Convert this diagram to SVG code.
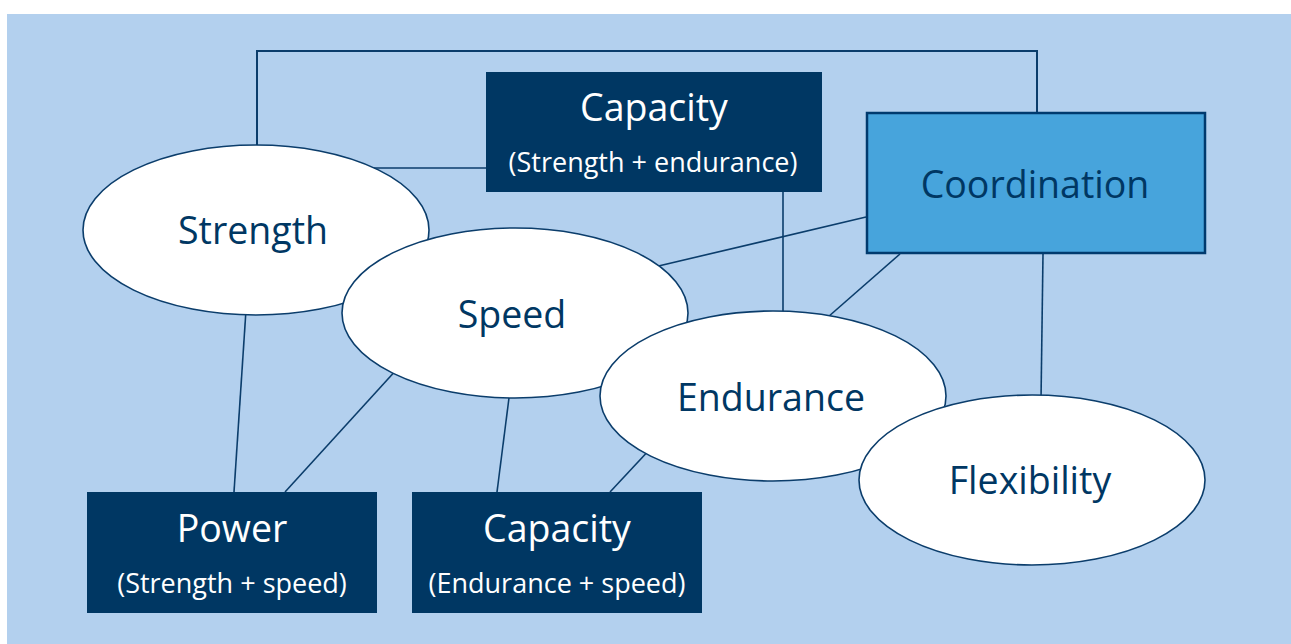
<svg xmlns="http://www.w3.org/2000/svg" width="1291" height="644" viewBox="0 0 1291 644">
<style>
.bg{fill:#b3d0ee}
.ell{fill:#ffffff;stroke:#0b3d6b;stroke-width:1.6}
.dark{fill:#003763}
.coord{fill:#47a4dc;stroke:#003a6e;stroke-width:2.5}
.ln{fill:none;stroke:#0b3d6b;stroke-width:1.6}
.t{font-family:"Open Sans","Noto Sans",sans-serif;text-anchor:middle}
.lbl{fill:#003763;font-size:37.5px}
.wt{fill:#ffffff;font-size:37.5px}
.sub{fill:#ffffff;font-size:27px}
</style>
<rect class="bg" x="7" y="14" width="1284" height="630"/>
<g id="connectors">
<polyline class="ln" points="257,150 257,51 1037,51 1037,113" style="stroke-width:2"/>
<line class="ln" x1="370" y1="168" x2="486" y2="168"/>
<line class="ln" x1="783" y1="192" x2="783" y2="320"/>
<line class="ln" x1="866" y1="217" x2="650" y2="268"/>
<line class="ln" x1="900" y1="254" x2="820" y2="324"/>
<line class="ln" x1="1043" y1="254" x2="1041" y2="400"/>
<line class="ln" x1="246" y1="310" x2="234" y2="492"/>
<line class="ln" x1="398" y1="368" x2="285" y2="492"/>
<line class="ln" x1="510" y1="390" x2="497" y2="492"/>
<line class="ln" x1="652" y1="447" x2="610" y2="492"/>
</g>
<g id="strength"><ellipse class="ell" cx="256" cy="230" rx="173" ry="85"/><text class="t lbl" x="253" y="244">Strength</text></g>
<g id="speed"><ellipse class="ell" cx="515" cy="313" rx="173" ry="85"/><text class="t lbl" x="512" y="328">Speed</text></g>
<g id="endurance"><ellipse class="ell" cx="773" cy="396" rx="173" ry="85"/><text class="t lbl" x="771" y="411">Endurance</text></g>
<g id="flexibility"><ellipse class="ell" cx="1032" cy="480" rx="173" ry="85"/><text class="t lbl" x="1030" y="494">Flexibility</text></g>
<g id="capacity-top"><rect class="dark" x="486" y="72" width="336" height="120"/><text class="t wt" x="654" y="121">Capacity</text><text class="t sub" x="653" y="172">(Strength + endurance)</text></g>
<g id="coordination"><rect class="coord" x="867" y="113" width="338" height="140"/><text class="t lbl" x="1035" y="198">Coordination</text></g>
<g id="power"><rect class="dark" x="87" y="492" width="290" height="121"/><text class="t wt" x="232" y="542">Power</text><text class="t sub" x="232" y="593">(Strength + speed)</text></g>
<g id="capacity-bottom"><rect class="dark" x="412" y="492" width="290" height="121"/><text class="t wt" x="557" y="542">Capacity</text><text class="t sub" x="557" y="593">(Endurance + speed)</text></g>
</svg>
